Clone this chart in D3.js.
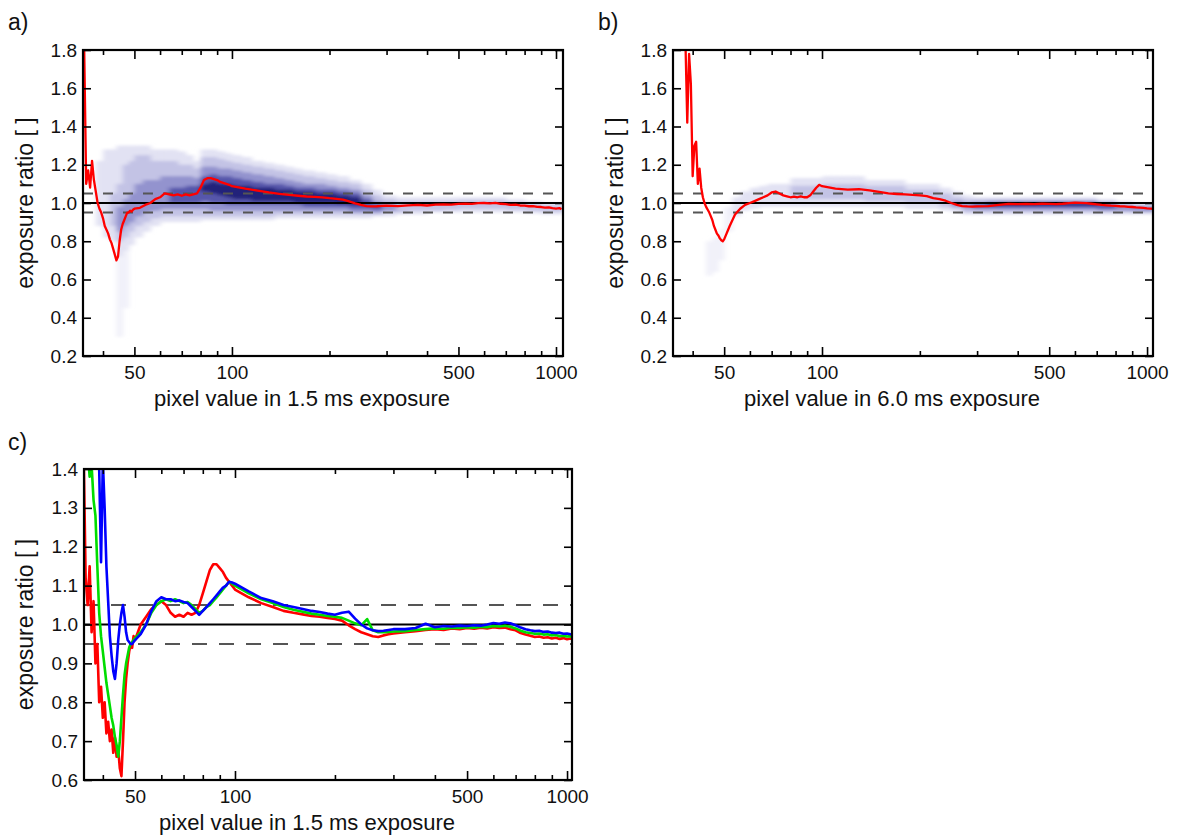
<!DOCTYPE html>
<html><head><meta charset="utf-8">
<script src="https://cdn.jsdelivr.net/npm/d3@7"></script>
<style>
body{margin:0;background:#fff}
svg text{font-family:"Liberation Sans",Arial,Helvetica,sans-serif;fill:#111}
</style>
</head><body>
<svg id="chart" width="1178" height="838"></svg>
<script>
// ---------- DATA ----------
const pixelValues = [35,35.5,36,36.5,37,37.5,38,38.5,39,39.5,40,40.5,41,41.5,42,42.5,43,43.5,44,44.5,45,45.5,46,46.5,47,47.5,48,48.5,49,49.5,50,
52,54,56,58,60,62,64,66,68,70,72,74,76,78,80,82,84,86,88,90,92,94,96,98,100,
110,120,130,140,150,160,170,180,190,200,210,220,230,240,250,260,270,280,290,300,
325,350,375,400,425,450,475,500,525,550,575,600,625,650,675,700,725,750,775,800,825,850,875,900,925,950,975,1000,1025,1040];

// panel a: ratio for 1.5 ms exposure (red median)
const ratioA15 = [1.80,1.10,1.17,1.08,1.22,1.12,1.06,1.00,0.97,0.95,0.92,0.88,0.86,0.84,0.81,0.79,0.76,0.73,0.70,0.72,0.80,0.86,0.89,0.91,0.93,0.95,0.95,0.96,0.955,0.965,0.97,
0.975,0.99,1.00,1.02,1.03,1.05,1.045,1.04,1.045,1.038,1.045,1.04,1.045,1.05,1.08,1.12,1.13,1.13,1.125,1.12,1.11,1.105,1.10,1.095,1.088,
1.075,1.065,1.055,1.048,1.042,1.038,1.034,1.032,1.029,1.025,1.022,1.018,1.008,0.998,0.99,0.984,0.982,0.983,0.985,0.986,
0.984,0.988,0.99,0.987,0.991,0.993,0.992,0.995,0.997,0.995,0.999,1.0,0.998,1.001,0.996,0.994,0.99,0.991,0.987,0.986,0.983,0.984,0.98,0.979,0.976,0.977,0.973,0.971,0.973,0.968];

// panel b: ratio for 6.0 ms exposure (red median)
const ratioB60 = [null,null,null,null,null,null,1.85,1.42,1.78,1.62,1.14,1.30,1.32,1.10,1.18,1.08,1.03,1.00,0.98,0.965,0.95,0.93,0.91,0.88,0.86,0.84,0.83,0.815,0.805,0.80,0.81,
0.88,0.94,0.97,0.99,1.0,1.01,1.02,1.03,1.04,1.055,1.06,1.05,1.04,1.035,1.03,1.033,1.03,1.035,1.03,1.03,1.04,1.06,1.08,1.095,1.088,
1.075,1.07,1.072,1.066,1.058,1.05,1.047,1.045,1.042,1.04,1.036,1.025,1.02,1.012,1.0,0.99,0.984,0.982,0.981,0.982,
0.984,0.99,0.995,0.994,0.995,0.994,0.996,0.995,0.994,0.996,0.999,1.002,1.001,0.999,0.996,0.993,0.99,0.988,0.986,0.985,0.983,0.982,0.98,0.979,0.977,0.976,0.974,0.972,0.971,0.97];

// panel c: red, green, blue channels, 1.5 ms exposure
const ratioRed = [1.45,1.12,1.05,1.15,0.98,1.06,0.90,0.95,0.80,0.84,0.76,0.80,0.72,0.75,0.70,0.73,0.67,0.71,0.66,0.68,0.63,0.61,0.70,0.80,0.86,0.90,0.93,0.95,0.94,0.97,0.96,
1.00,1.02,1.04,1.05,1.06,1.05,1.03,1.02,1.025,1.02,1.03,1.025,1.03,1.05,1.08,1.11,1.14,1.155,1.155,1.145,1.135,1.12,1.11,1.10,1.09,
1.07,1.055,1.045,1.035,1.03,1.026,1.022,1.02,1.017,1.014,1.01,0.998,0.988,0.98,0.975,0.97,0.968,0.972,0.975,0.977,
0.98,0.983,0.986,0.988,0.986,0.99,0.988,0.991,0.989,0.992,0.99,0.993,0.991,0.992,0.988,0.985,0.978,0.974,0.971,0.968,0.969,0.966,0.967,0.964,0.966,0.963,0.965,0.962,0.964,0.962];
const ratioGreen = [1.5,1.5,1.45,1.38,1.41,1.32,1.28,1.15,1.03,0.97,0.93,0.89,0.85,0.82,0.79,0.76,0.74,0.71,0.69,0.66,0.70,0.76,0.82,0.87,0.90,0.92,0.94,0.95,0.955,0.96,0.965,
0.98,1.0,1.03,1.05,1.06,1.065,1.06,1.065,1.06,1.055,1.058,1.05,1.04,1.03,1.035,1.045,1.05,1.06,1.07,1.08,1.09,1.10,1.11,1.105,1.10,
1.08,1.065,1.055,1.045,1.038,1.033,1.028,1.025,1.022,1.02,1.017,1.01,1.003,0.998,1.014,0.985,0.98,0.98,0.981,0.982,
0.983,0.986,0.988,0.99,0.989,0.992,0.991,0.993,0.992,0.994,0.993,0.996,0.995,0.997,0.994,0.99,0.984,0.98,0.978,0.976,0.977,0.974,0.975,0.972,0.973,0.97,0.971,0.969,0.97,0.968];
const ratioBlue = [null,null,null,null,null,null,null,1.48,1.40,1.16,1.42,1.30,1.15,1.06,0.97,0.92,0.88,0.86,0.90,0.96,1.00,1.03,1.05,1.02,0.98,0.96,0.955,0.95,0.95,0.955,0.96,
0.975,1.0,1.035,1.06,1.07,1.065,1.065,1.06,1.062,1.058,1.055,1.045,1.035,1.025,1.035,1.045,1.055,1.065,1.075,1.085,1.095,1.10,1.11,1.108,1.105,
1.085,1.068,1.06,1.05,1.045,1.04,1.035,1.032,1.028,1.025,1.03,1.033,1.015,1.0,0.99,0.985,0.983,0.984,0.986,0.988,
0.988,0.991,1.002,0.993,0.996,0.995,0.997,0.996,0.998,0.997,1.0,1.004,1.002,1.005,1.003,0.998,0.992,0.988,0.985,0.983,0.984,0.981,0.982,0.979,0.978,0.979,0.976,0.977,0.975,0.974];

// 2D-histogram density: column edges (pixel value) and [low, high] ratio extent per density level
const heatEdges = [38,40,42,44,46,48,50,53,56,60,64,68,72,76,80,85,90,95,100,107,115,125,135,145,155,165,180,195,210,230,250,270,290,320,350,400,450,500,600,700,800,900,1050];

const densAS = [null,null,null,[0.30,0.80],[0.45,0.80],null,null,null,null,null,null,null,null,null,null,null,null,null,null,null,null,null,null,null,null,null,null,null,null,null,null,null,null,null,null,null,null,null,null,null,null,null];
const densA0 = [[0.88,1.22],[0.82,1.28],[0.80,1.28],[0.72,1.30],[0.75,1.30],[0.78,1.30],[0.82,1.30],[0.85,1.30],[0.88,1.28],[0.90,1.28],[0.90,1.28],[0.90,1.27],[0.90,1.25],[0.90,1.22],[0.91,1.28],[0.91,1.28],[0.91,1.27],[0.91,1.26],[0.91,1.25],[0.91,1.24],[0.91,1.22],[0.91,1.21],[0.92,1.20],[0.92,1.19],[0.92,1.18],[0.92,1.17],[0.92,1.16],[0.92,1.15],[0.92,1.14],[0.92,1.12],[0.92,1.10],[0.93,1.07],[0.93,1.04],[0.94,1.03],[0.94,1.03],[0.95,1.03],[0.95,1.03],[0.95,1.03],[0.95,1.03],[0.95,1.02],[0.945,1.01],[0.94,1.0]];
const densA1 = [null,null,[0.88,1.05],[0.80,1.10],[0.82,1.20],[0.85,1.22],[0.88,1.25],[0.90,1.25],[0.92,1.22],[0.93,1.22],[0.93,1.22],[0.93,1.20],[0.93,1.20],[0.93,1.18],[0.93,1.24],[0.93,1.24],[0.93,1.23],[0.93,1.22],[0.93,1.21],[0.93,1.20],[0.93,1.19],[0.93,1.18],[0.94,1.17],[0.94,1.16],[0.94,1.15],[0.94,1.14],[0.94,1.13],[0.94,1.12],[0.94,1.11],[0.94,1.10],[0.94,1.07],[0.94,1.04],[0.95,1.02],[0.95,1.01],[0.96,1.01],[0.96,1.01],[0.965,1.01],[0.97,1.015],[0.97,1.015],[0.965,1.005],[0.96,1.0],[0.955,0.99]];
const densA2 = [null,null,null,[0.85,0.98],[0.88,1.02],[0.90,1.05],[0.93,1.10],[0.95,1.12],[0.96,1.12],[0.97,1.14],[0.97,1.14],[0.97,1.14],[0.97,1.14],[0.97,1.13],[0.97,1.19],[0.96,1.19],[0.96,1.18],[0.96,1.18],[0.96,1.17],[0.96,1.16],[0.96,1.15],[0.96,1.14],[0.96,1.13],[0.96,1.12],[0.96,1.11],[0.96,1.10],[0.96,1.10],[0.96,1.09],[0.96,1.08],[0.95,1.07],[0.95,1.04],[0.95,1.01],[0.96,1.0],null,null,null,null,null,null,null,null,null];
const densA3 = [null,null,null,null,null,null,null,null,null,null,[1.00,1.08],[1.0,1.08],[1.0,1.09],[1.0,1.09],[1.01,1.14],[1.0,1.15],[1.0,1.14],[0.99,1.14],[0.99,1.13],[0.99,1.12],[0.99,1.11],[0.99,1.10],[0.99,1.10],[0.99,1.09],[0.99,1.08],[0.98,1.08],[0.98,1.07],[0.98,1.07],[0.98,1.06],[0.97,1.05],[0.97,1.02],[0.965,0.995],null,null,null,null,null,null,null,null,null,null];
const densA4 = [null,null,null,null,null,null,null,null,null,null,null,null,null,null,[1.06,1.10],[1.05,1.11],[1.04,1.10],[1.03,1.10],[1.02,1.09],[1.02,1.09],[1.01,1.08],[1.01,1.08],[1.01,1.07],[1.01,1.07],[1.0,1.06],[1.0,1.06],[1.0,1.05],[1.0,1.05],[0.995,1.04],[0.99,1.03],null,null,null,null,null,null,null,null,null,null,null,null];

const densBS = [null,null,null,[0.62,0.80],[0.64,0.82],[0.70,0.86],[0.85,0.98],null,null,null,null,null,null,null,null,null,null,null,null,null,null,null,null,null,null,null,null,null,null,null,null,null,null,null,null,null,null,null,null,null,null,null];
const densB0 = [null,null,null,null,null,null,null,[0.93,1.03],[0.96,1.06],[0.97,1.08],[0.98,1.09],[0.98,1.10],[0.98,1.10],[0.98,1.10],[0.98,1.13],[0.98,1.13],[0.98,1.13],[0.98,1.13],[0.98,1.14],[0.98,1.14],[0.98,1.14],[0.98,1.14],[0.98,1.12],[0.98,1.12],[0.98,1.12],[0.98,1.12],[0.97,1.10],[0.97,1.10],[0.97,1.10],[0.96,1.08],[0.95,1.06],[0.94,1.04],[0.94,1.03],[0.94,1.03],[0.94,1.03],[0.94,1.03],[0.94,1.03],[0.94,1.03],[0.94,1.03],[0.94,1.02],[0.94,1.01],[0.94,1.0]];
const densB1 = [null,null,null,null,null,null,null,null,null,null,null,null,null,null,[1.02,1.09],[1.02,1.09],[1.02,1.09],[1.02,1.09],[1.02,1.10],[1.02,1.10],[1.02,1.10],[1.02,1.10],[1.01,1.09],[1.01,1.09],[1.01,1.09],[1.01,1.09],[1.0,1.07],[1.0,1.07],[1.0,1.07],[0.98,1.05],[0.97,1.03],[0.95,1.02],[0.95,1.02],[0.95,1.02],[0.95,1.02],[0.95,1.02],[0.95,1.02],[0.95,1.02],[0.95,1.02],[0.95,1.01],[0.95,1.0],[0.95,0.99]];
const densB2 = [null,null,null,null,null,null,null,null,null,null,null,null,null,null,null,null,null,null,null,null,null,null,null,null,null,null,null,null,null,null,[0.98,1.01],[0.97,1.0],[0.965,1.005],[0.965,1.01],[0.965,1.01],[0.965,1.01],[0.965,1.01],[0.965,1.01],[0.965,1.01],[0.96,1.0],[0.96,0.99],[0.955,0.985]];
const densB3 = [null,null,null,null,null,null,null,null,null,null,null,null,null,null,null,null,null,null,null,null,null,null,null,null,null,null,null,null,null,null,null,null,[0.975,0.995],[0.975,1.0],[0.975,1.005],[0.975,1.005],[0.975,1.005],[0.975,1.005],[0.975,1.005],[0.97,0.995],null,null];
const densB4 = [null,null,null,null,null,null,null,null,null,null,null,null,null,null,null,null,null,null,null,null,null,null,null,null,null,null,null,null,null,null,null,null,null,[0.985,0.998],[0.985,1.0],[0.985,1.0],[0.985,1.0],[0.985,1.0],[0.985,1.0],null,null,null];

const xMinorTicks = [40,60,70,80,90,200,300,400,600,700,800,900];
const xMajorTicks = [50,100,500,1000];
const xTickLabels = ["50","100","500","1000"];
const yTicksAB = [0.2,0.4,0.6,0.8,1.0,1.2,1.4,1.6,1.8];
const yTicksC = [0.6,0.7,0.8,0.9,1.0,1.1,1.2,1.3,1.4];
const refLevels = [0.95,1.0,1.05];

// ---------- DRAW ----------
const heatColors = ["#f1f1f9","#e2e2f3","#c3c3e5","#9393ce","#5656ab","#20207a"];
const svg = d3.select("#chart");
const defs = svg.append("defs");
const flt = defs.append("filter").attr("id","blur").attr("x","-5%").attr("y","-20%").attr("width","110%").attr("height","140%");
flt.append("feGaussianBlur").attr("stdDeviation","2.5 1.8");

function panel(cfg){
  const {name,left,top,width,height,xDomain,yDomain,yTicks,xLabel,dash,series,dens,ylabX,lw} = cfg;
  const x = d3.scaleLog().domain(xDomain).range([left,left+width]);
  const y = d3.scaleLinear().domain(yDomain).range([top+height,top]);
  defs.append("clipPath").attr("id","clip"+name).append("rect")
    .attr("x",left).attr("y",top).attr("width",width).attr("height",height);
  const plot = svg.append("g").attr("clip-path",`url(#clip${name})`);
  if(dens){
    const hg = plot.append("g").attr("filter","url(#blur)");
    dens.forEach((lvl,li)=>{
      lvl.forEach((b,i)=>{
        if(!b) return;
        hg.append("rect")
          .attr("x",x(heatEdges[i])).attr("width",x(heatEdges[i+1])-x(heatEdges[i])+0.6)
          .attr("y",y(b[1])).attr("height",y(b[0])-y(b[1]))
          .attr("fill",heatColors[li]);
      });
    });
  }
  refLevels.forEach(v=>{
    plot.append("line").attr("x1",left).attr("x2",left+width).attr("y1",y(v)).attr("y2",y(v))
      .attr("stroke",v===1.0?"#000":"#555").attr("stroke-width",2)
      .attr("stroke-dasharray",v===1.0?null:dash);
  });
  const line = d3.line().defined(d=>d[1]!=null).x(d=>x(d[0])).y(d=>y(d[1]));
  series.forEach(s=>{
    plot.append("path").datum(pixelValues.map((p,i)=>[p,s.values[i]]))
      .attr("d",line).attr("fill","none").attr("stroke",s.color)
      .attr("stroke-width",lw).attr("stroke-linejoin","round");
  });
  // axes
  const styleAxis = g=>{
    g.select(".domain").remove();
    g.selectAll(".tick line").attr("stroke","#000").attr("stroke-width",1.6);
    g.selectAll("text").attr("font-size",19).attr("font-family",null).attr("fill","#111");
  };
  svg.append("g").attr("transform",`translate(0,${top+height})`)
    .call(d3.axisBottom(x).tickValues(xMinorTicks).tickSize(-5).tickFormat("")).call(styleAxis);
  svg.append("g").attr("transform",`translate(0,${top+height})`)
    .call(d3.axisBottom(x).tickValues(xMajorTicks).tickSize(-9).tickPadding(10).tickFormat((d,i)=>xTickLabels[i])).call(styleAxis);
  svg.append("g").attr("transform",`translate(0,${top})`)
    .call(d3.axisTop(x).tickValues(xMinorTicks).tickSize(-5).tickFormat("")).call(styleAxis);
  svg.append("g").attr("transform",`translate(0,${top})`)
    .call(d3.axisTop(x).tickValues(xMajorTicks).tickSize(-9).tickFormat("")).call(styleAxis);
  svg.append("g").attr("transform",`translate(${left},0)`)
    .call(d3.axisLeft(y).tickValues(yTicks).tickSize(-8).tickPadding(6).tickFormat(d3.format(".1f"))).call(styleAxis);
  svg.append("g").attr("transform",`translate(${left+width},0)`)
    .call(d3.axisRight(y).tickValues(yTicks).tickSize(-8).tickFormat("")).call(styleAxis);
  svg.append("rect").attr("x",left).attr("y",top).attr("width",width).attr("height",height)
    .attr("fill","none").attr("stroke","#000").attr("stroke-width",2.2);
  svg.append("text").attr("x",left+width/2-21).attr("y",top+height+50)
    .attr("text-anchor","middle").attr("font-size",22).text(xLabel);
  svg.append("text").attr("transform",`translate(${ylabX},${top+height/2}) rotate(-90)`)
    .attr("text-anchor","middle").attr("font-size",23).text("exposure ratio [ ]");
}

panel({name:"a",left:83,top:50,width:480,height:306,xDomain:[34.7,1051],yDomain:[0.2,1.8],yTicks:yTicksAB,
  xLabel:"pixel value in 1.5 ms exposure",dash:"10,10",ylabX:33,lw:2.3,
  dens:[densAS,densA0,densA1,densA2,densA3,densA4],series:[{values:ratioA15,color:"#ff0000"}]});
panel({name:"b",left:673,top:50,width:480,height:306,xDomain:[34.8,1043],yDomain:[0.2,1.8],yTicks:yTicksAB,
  xLabel:"pixel value in 6.0 ms exposure",dash:"10,10",ylabX:623,lw:2.3,
  dens:[densBS,densB0,densB1,densB2,densB3,densB4],series:[{values:ratioB60,color:"#ff0000"}]});
panel({name:"c",left:84,top:469,width:488,height:311,xDomain:[35.1,1035],yDomain:[0.6,1.4],yTicks:yTicksC,
  xLabel:"pixel value in 1.5 ms exposure",dash:"15,12",ylabX:33,dens:null,lw:2.6,
  series:[{values:ratioRed,color:"#ff0000"},{values:ratioGreen,color:"#00dd00"},{values:ratioBlue,color:"#0000ff"}]});

[["a)",8,30],["b)",598,30],["c)",8,450]].forEach(([t,px,py])=>{
  svg.append("text").attr("x",px).attr("y",py).attr("font-size",23).text(t);
});
</script>
</body></html>
